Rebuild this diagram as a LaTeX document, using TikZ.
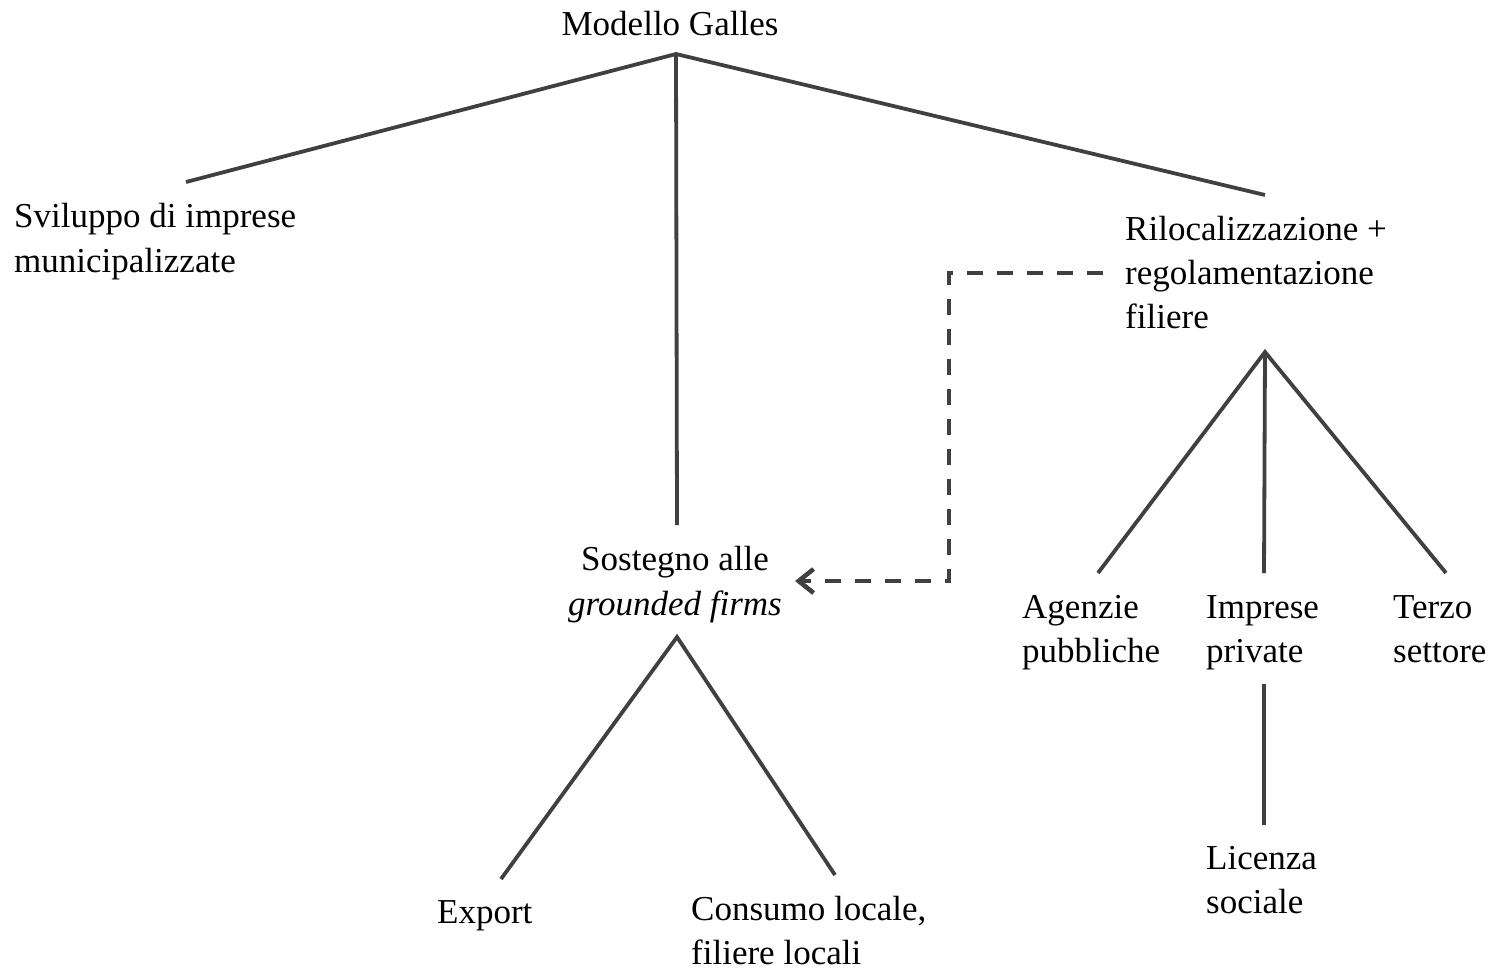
\documentclass[tikz,border=0pt]{standalone}
\usepackage{fontspec}
\setmainfont{Liberation Serif}
\usetikzlibrary{arrows.meta}
\definecolor{linegray}{HTML}{404040}
\begin{document}
\begin{tikzpicture}[x=1pt,y=-1pt,
  lbl/.style={inner sep=0pt, font=\fontsize{35}{45}\selectfont, align=left, anchor=base west},
  conn/.style={draw=linegray, line width=3.8pt},
  dashconn/.style={draw=linegray, line width=4.5pt, dash pattern=on 16pt off 14pt,
     -{Straight Barb[length=15pt,width=24pt,line width=4.5pt]}}]
\useasboundingbox (0,0) rectangle (1508,970);
% labels (multi-line nodes are placed by the baseline of their last line)
\node[lbl, anchor=base] (mg) at (670,35) {Modello Galles};
\node[lbl] (svil) at (14,272) {Sviluppo di imprese\\municipalizzate};
\node[lbl, font=\fontsize{35}{44}\selectfont] (ril) at (1125,328) {Rilocalizzazione +\\regolamentazione\\filiere};
\node[lbl, align=center, anchor=base] (sos) at (675,615) {Sostegno alle\\\textit{grounded firms}};
\node[lbl, font=\fontsize{35}{44}\selectfont] (ag) at (1022,662) {Agenzie\\pubbliche};
\node[lbl, font=\fontsize{35}{44}\selectfont] (imp) at (1206,662) {Imprese\\private};
\node[lbl, font=\fontsize{35}{44}\selectfont] (ter) at (1393,662) {Terzo\\settore};
\node[lbl, font=\fontsize{35}{44}\selectfont] (lic) at (1206,913) {Licenza\\sociale};
\node[lbl] (exp) at (437,923) {Export};
\node[lbl, font=\fontsize{35}{44}\selectfont] (con) at (691,964) {Consumo locale,\\filiere locali};
% connector end points
\coordinate (mgB) at (676,54);
\coordinate (svilT) at (186,182);
\coordinate (sosT) at (677,525);
\coordinate (rilT) at (1265,195);
\coordinate (rilB) at (1265,352);
\coordinate (agT) at (1098,573);
\coordinate (impT) at (1264,573);
\coordinate (terT) at (1446,573);
\coordinate (impB) at (1264,684);
\coordinate (licT) at (1264,825);
\coordinate (sosB) at (677,637);
\coordinate (expT) at (501,879);
\coordinate (conT) at (835,875);
\coordinate (rilL) at (1103,273);
\coordinate (bend1) at (949,273);
\coordinate (bend2) at (949,581);
\coordinate (sosR) at (795,581);
% solid connectors
\draw[conn] (svilT) -- (mgB) -- (rilT);
\draw[conn] (mgB) -- (sosT);
\draw[conn] (agT) -- (rilB) -- (terT);
\draw[conn] (rilB) -- (impT);
\draw[conn] (impB) -- (licT);
\draw[conn] (expT) -- (sosB) -- (conT);
% dashed connector
\draw[dashconn] (rilL) -- (bend1) -- (bend2) -- (sosR);
\end{tikzpicture}
\end{document}
